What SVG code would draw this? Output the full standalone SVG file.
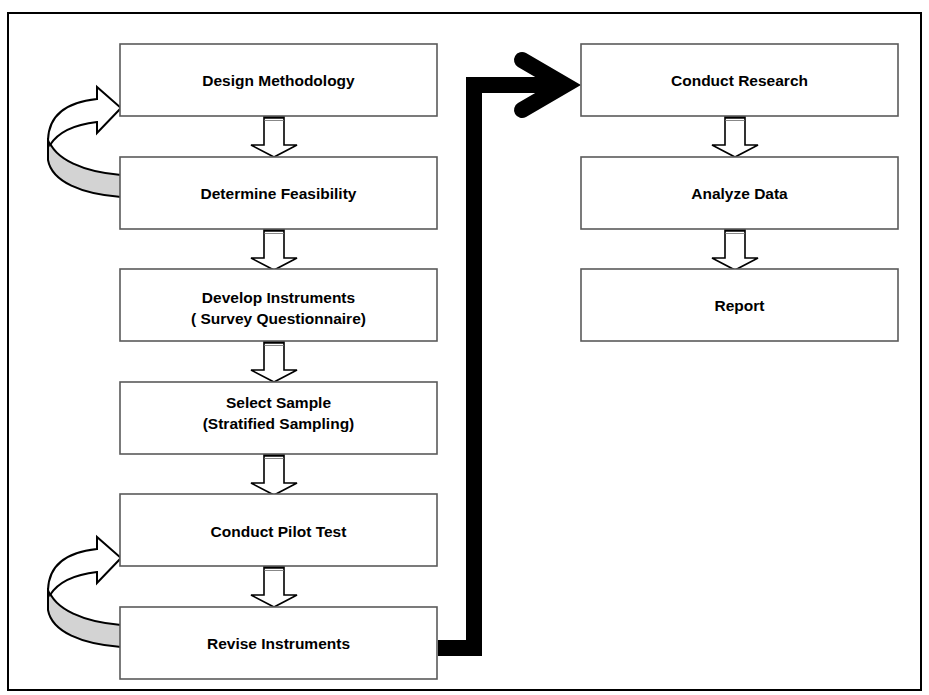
<svg xmlns="http://www.w3.org/2000/svg" width="929" height="695" viewBox="0 0 929 695">
<style>
.box{fill:#fff;stroke:#5a5a5a;stroke-width:1.6}
.t{font-family:"Liberation Sans",Arial,sans-serif;font-weight:bold;font-size:15.5px;fill:#000;text-anchor:middle}
.frame{fill:none;stroke:#000;stroke-width:2}
.blk{fill:#fff;stroke:#000;stroke-width:1.6;stroke-linejoin:miter}
.curv{stroke:#000;stroke-width:2;stroke-linejoin:miter}
</style>
<defs>
<g id="down">
<path class="blk" d="M264,116 L284,116 L284,145 L297,145 L274,157 L251,145 L264,145 Z"/>
<line x1="264" y1="117.5" x2="284" y2="117.5" stroke="#000" stroke-width="2.5"/>
<line x1="264.5" y1="120.5" x2="283.5" y2="120.5" stroke="#888" stroke-width="1"/>
</g>
<g id="curl">
<path class="curv" fill="#d3d3d3" d="M48,138 C54,160 85,172 121,175 L121,197 C82,194 52,182 48,160 Z"/>
<path class="curv" fill="#fff" d="M48,140 Q49,104 97,99 L97,87 L121,108 L97,133 L97,122 Q62,126 50,145 Z"/>
</g>
</defs>
<rect class="frame" x="8" y="13" width="913" height="677"/>
<g id="connectors">
<use href="#down"/>
<use href="#down" transform="translate(0,113)"/>
<use href="#down" transform="translate(0,225)"/>
<use href="#down" transform="translate(0,338)"/>
<use href="#down" transform="translate(0,450)"/>
<use href="#down" transform="translate(461,0)"/>
<use href="#down" transform="translate(461,113)"/>
<use href="#curl"/>
<use href="#curl" transform="translate(0,450)"/>
<path d="M438,648 L474,648 L474,85 L566,85" fill="none" stroke="#000" stroke-width="16" stroke-linejoin="miter"/>
<path d="M522,60 L565,85 L522,110" fill="none" stroke="#000" stroke-width="16" stroke-linejoin="miter" stroke-linecap="round"/>
</g>
<g id="n1"><rect class="box" x="120" y="44" width="317" height="72"/><text class="t" x="278.5" y="86">Design Methodology</text></g>
<g id="n2"><rect class="box" x="120" y="157" width="317" height="72"/><text class="t" x="278.5" y="199">Determine Feasibility</text></g>
<g id="n3"><rect class="box" x="120" y="269" width="317" height="72"/><text class="t" x="278.5" y="303">Develop Instruments</text><text class="t" x="278.5" y="324">( Survey Questionnaire)</text></g>
<g id="n4"><rect class="box" x="120" y="382" width="317" height="72"/><text class="t" x="278.5" y="408">Select Sample</text><text class="t" x="278.5" y="429">(Stratified Sampling)</text></g>
<g id="n5"><rect class="box" x="120" y="494" width="317" height="72"/><text class="t" x="278.5" y="537">Conduct Pilot Test</text></g>
<g id="n6"><rect class="box" x="120" y="607" width="317" height="72"/><text class="t" x="278.5" y="649">Revise Instruments</text></g>
<g id="n7"><rect class="box" x="581" y="44" width="317" height="72"/><text class="t" x="739.5" y="86">Conduct Research</text></g>
<g id="n8"><rect class="box" x="581" y="157" width="317" height="72"/><text class="t" x="739.5" y="199">Analyze Data</text></g>
<g id="n9"><rect class="box" x="581" y="269" width="317" height="72"/><text class="t" x="739.5" y="311">Report</text></g>
</svg>
